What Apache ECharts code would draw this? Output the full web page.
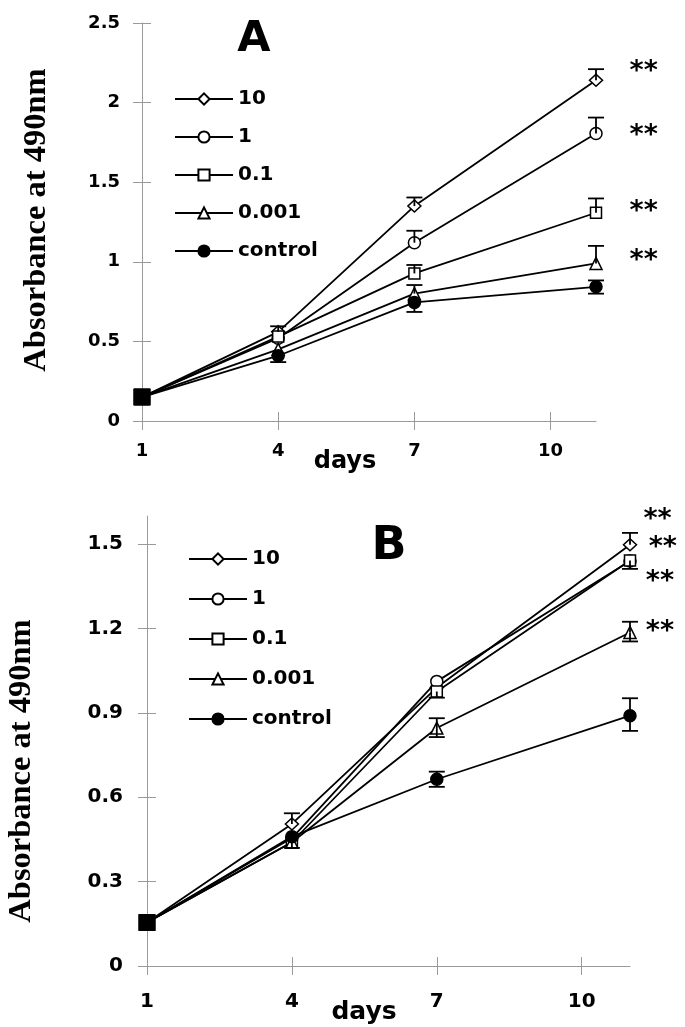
<!DOCTYPE html>
<html>
<head>
<meta charset="utf-8">
<script src="https://cdn.jsdelivr.net/npm/echarts@6/dist/echarts.min.js"></script>
<style>
html,body{margin:0;padding:0;background:#fff;}
#a{position:absolute;left:0;top:0;width:685px;height:480px;}
#b{position:absolute;left:0;top:480px;width:685px;height:547px;}
</style>
</head>
<body>
<div id="a"></div>
<div id="b"></div>
<script>
// ---- data ----
const days = [1, 4, 7, 11];
const seriesNames = ['10', '1', '0.1', '0.001', 'control'];
const xTicks = [1, 4, 7, 10];
const yTicksA = [0, 0.5, 1, 1.5, 2, 2.5];
const yTicksB = [0, 0.3, 0.6, 0.9, 1.2, 1.5];

// Panel A
const a10 = [0.15, 0.56, 1.35, 2.14];
const a1 = [0.15, 0.52, 1.12, 1.806];
const a01 = [0.15, 0.53, 0.927, 1.308];
const a0001 = [0.15, 0.45, 0.80, 0.99];
const aCtrl = [0.15, 0.41, 0.745, 0.843];
const a10Up = [0, 0.035, 0.054, 0.07];
const a1Up = [0, 0, 0.075, 0.10];
const a01Up = [0, 0, 0.053, 0.09];
const a0001Up = [0, 0, 0.054, 0.11];
const aCtrlUp = [0, 0, 0, 0.04];
const aCtrlDown = [0, 0.04, 0.06, 0.043];
const aStarsY = [2.224, 1.827, 1.345, 1.042];
const aStarsX = [12.05, 12.05, 12.05, 12.05];

// Panel B
const b10 = [0.155, 0.505, 0.99, 1.498];
const b1 = [0.155, 0.455, 1.012, 1.44];
const b01 = [0.155, 0.44, 0.976, 1.442];
const b0001 = [0.155, 0.44, 0.846, 1.186];
const bCtrl = [0.155, 0.46, 0.664, 0.89];
const b10Up = [0, 0.038, 0, 0.042];
const b01Down = [0, 0, 0.022, 0.03];
const b0001Up = [0, 0, 0.035, 0.038];
const b0001Down = [0, 0.02, 0.032, 0.032];
const bCtrlUp = [0, 0, 0.027, 0.062];
const bCtrlDown = [0, 0, 0.027, 0.054];
const bStarsY = [1.605, 1.504, 1.383, 1.207];
const bStarsX = [11.57, 11.68, 11.62, 11.62];

// ---- styles ----
const symbols = ['diamond', 'circle', 'rect', 'triangle', 'circle'];
const fills = ['#fff', '#fff', '#fff', '#fff', '#000'];
const symSizes = [[13, 12], 12, 11, 12, 12];
const dv = '"DejaVu Sans", Verdana, sans-serif';
const serif = '"Liberation Serif", "Times New Roman", serif';

function lineSeries(name, idx, vals) {
  return {
    name: name, type: 'line', z: 3,
    symbol: symbols[idx], symbolSize: symSizes[idx],
    itemStyle: {color: fills[idx], borderColor: '#000', borderWidth: 1.5},
    lineStyle: {color: '#000', width: 1.8},
    data: vals.map(function (v, i) {
      if (i === 0) return {value: [days[i], v], symbol: 'rect', symbolSize: 15, itemStyle: {color: '#000'}};
      return [days[i], v];
    })
  };
}

function errSeries(vals, up, down) {
  return {
    type: 'custom', z: 4, silent: true, clip: false,
    data: vals.map(function (v, i) { return [days[i], v, up ? up[i] : 0, down ? down[i] : 0]; }),
    renderItem: function (params, api) {
      const x = api.value(0), y = api.value(1), u = api.value(2), d = api.value(3);
      const c = api.coord([x, y]);
      const st = {stroke: '#000', lineWidth: 1.8};
      const cap = 8;
      const ch = [];
      if (u > 0) {
        const p = api.coord([x, y + u]);
        ch.push({type: 'line', shape: {x1: c[0], y1: c[1], x2: p[0], y2: p[1]}, style: st});
        ch.push({type: 'line', shape: {x1: p[0] - cap, y1: p[1], x2: p[0] + cap, y2: p[1]}, style: st});
      }
      if (d > 0) {
        const p = api.coord([x, y - d]);
        ch.push({type: 'line', shape: {x1: c[0], y1: c[1], x2: p[0], y2: p[1]}, style: st});
        ch.push({type: 'line', shape: {x1: p[0] - cap, y1: p[1], x2: p[0] + cap, y2: p[1]}, style: st});
      }
      return {type: 'group', children: ch};
    }
  };
}

function starSeries(xs, ys, size) {
  return {
    type: 'custom', silent: true, clip: false, z: 5,
    data: ys.map(function (v, i) { return [xs[i], v]; }),
    renderItem: function (params, api) {
      const p = api.coord([api.value(0), api.value(1)]);
      return {type: 'text', x: p[0], y: p[1] + size * 0.2,
        style: {text: '**', fill: '#000', font: 'bold ' + size + 'px ' + dv, textAlign: 'center', textVerticalAlign: 'middle'}};
    }
  };
}

function axes(yMax, yTicks, fs, marginX, marginY) {
  const axisCol = '#9a9a9a';
  const xBase = {
    type: 'value', min: 1, max: 11, interval: 3,
    axisLine: {show: true, lineStyle: {color: axisCol, width: 1}},
    splitLine: {show: false}
  };
  const yBase = {
    type: 'value', min: 0, max: yMax,
    axisLine: {show: true, lineStyle: {color: axisCol, width: 1}},
    splitLine: {show: false}
  };
  return {
    xAxis: [
      Object.assign({}, xBase, {
        position: 'bottom',
        axisTick: {show: true, length: 9, customValues: xTicks, lineStyle: {color: axisCol}},
        axisLabel: {show: true, margin: marginX, color: '#000', fontFamily: dv, fontWeight: 'bold', fontSize: fs,
          customValues: xTicks}
      }),
      Object.assign({}, xBase, {
        position: 'bottom',
        axisLine: {show: false},
        axisTick: {show: true, inside: true, length: 9, customValues: xTicks, lineStyle: {color: axisCol}},
        axisLabel: {show: false}
      })
    ],
    yAxis: [
      Object.assign({}, yBase, {
        position: 'left',
        axisTick: {show: true, length: 9, customValues: yTicks, lineStyle: {color: axisCol}},
        axisLabel: {show: true, margin: marginY, color: '#000', fontFamily: dv, fontWeight: 'bold', fontSize: fs,
          customValues: yTicks, padding: [0, 0, 10, 0],
          formatter: function (v) { return String(Math.round(v * 10) / 10); }}
      }),
      Object.assign({}, yBase, {
        position: 'left',
        axisLine: {show: false},
        axisTick: {show: true, inside: true, length: 9, customValues: yTicks, lineStyle: {color: axisCol}},
        axisLabel: {show: false}
      })
    ]
  };
}

function legendOpt(left, top, gap, w) {
  return {
    orient: 'vertical', left: left, top: top, padding: 0,
    itemWidth: w, itemHeight: 14, itemGap: gap,
    selectedMode: false, data: seriesNames,
    textStyle: {color: '#000', fontFamily: dv, fontWeight: 'bold', fontSize: 20, lineHeight: 20, padding: [0, 0, 10, 0]}
  };
}

function textG(txt, x, y, size, family, rot) {
  return {type: 'text', x: x, y: y, rotation: rot || 0,
    style: {text: txt, fill: '#000', font: 'bold ' + size + 'px ' + family, textAlign: 'center', textVerticalAlign: 'middle'}};
}

// ---- Panel A ----
const chartA = echarts.init(document.getElementById('a'), null, {renderer: 'canvas'});
const axA = axes(2.5, yTicksA, 18, 21, 22);
chartA.setOption({
  animation: false,
  grid: {left: 142, top: 23, height: 398, width: 454},
  xAxis: axA.xAxis, yAxis: axA.yAxis,
  legend: legendOpt(174, 84, 8, 58),
  graphic: [
    textG('A', 254, 40, 43, dv),
    textG('days', 345, 462, 24, dv),
    textG('Absorbance at 490nm', 37, 220, 32.5, serif, Math.PI / 2)
  ],
  series: [
    lineSeries('10', 0, a10), lineSeries('1', 1, a1), lineSeries('0.1', 2, a01),
    lineSeries('0.001', 3, a0001), lineSeries('control', 4, aCtrl),
    errSeries(a10, a10Up, null), errSeries(a1, a1Up, null), errSeries(a01, a01Up, null),
    errSeries(a0001, a0001Up, null), errSeries(aCtrl, aCtrlUp, aCtrlDown),
    starSeries(aStarsX, aStarsY, 27)
  ]
});

// ---- Panel B ----
const chartB = echarts.init(document.getElementById('b'), null, {renderer: 'canvas'});
const axB = axes(1.6, yTicksB, 20, 26, 24);
chartB.setOption({
  animation: false,
  grid: {left: 147, top: 36, height: 450, width: 483},
  xAxis: axB.xAxis, yAxis: axB.yAxis,
  legend: legendOpt(188, 64, 10, 58),
  graphic: [
    textG('B', 389, 67, 46, dv),
    textG('days', 364, 532, 25, dv),
    textG('Absorbance at 490nm', 22, 291, 32.5, serif, Math.PI / 2)
  ],
  series: [
    lineSeries('10', 0, b10), lineSeries('1', 1, b1), lineSeries('0.1', 2, b01),
    lineSeries('0.001', 3, b0001), lineSeries('control', 4, bCtrl),
    errSeries(b10, b10Up, null), errSeries(b01, null, b01Down),
    errSeries(b0001, b0001Up, b0001Down), errSeries(bCtrl, bCtrlUp, bCtrlDown),
    starSeries(bStarsX, bStarsY, 27)
  ]
});
</script>
</body>
</html>
